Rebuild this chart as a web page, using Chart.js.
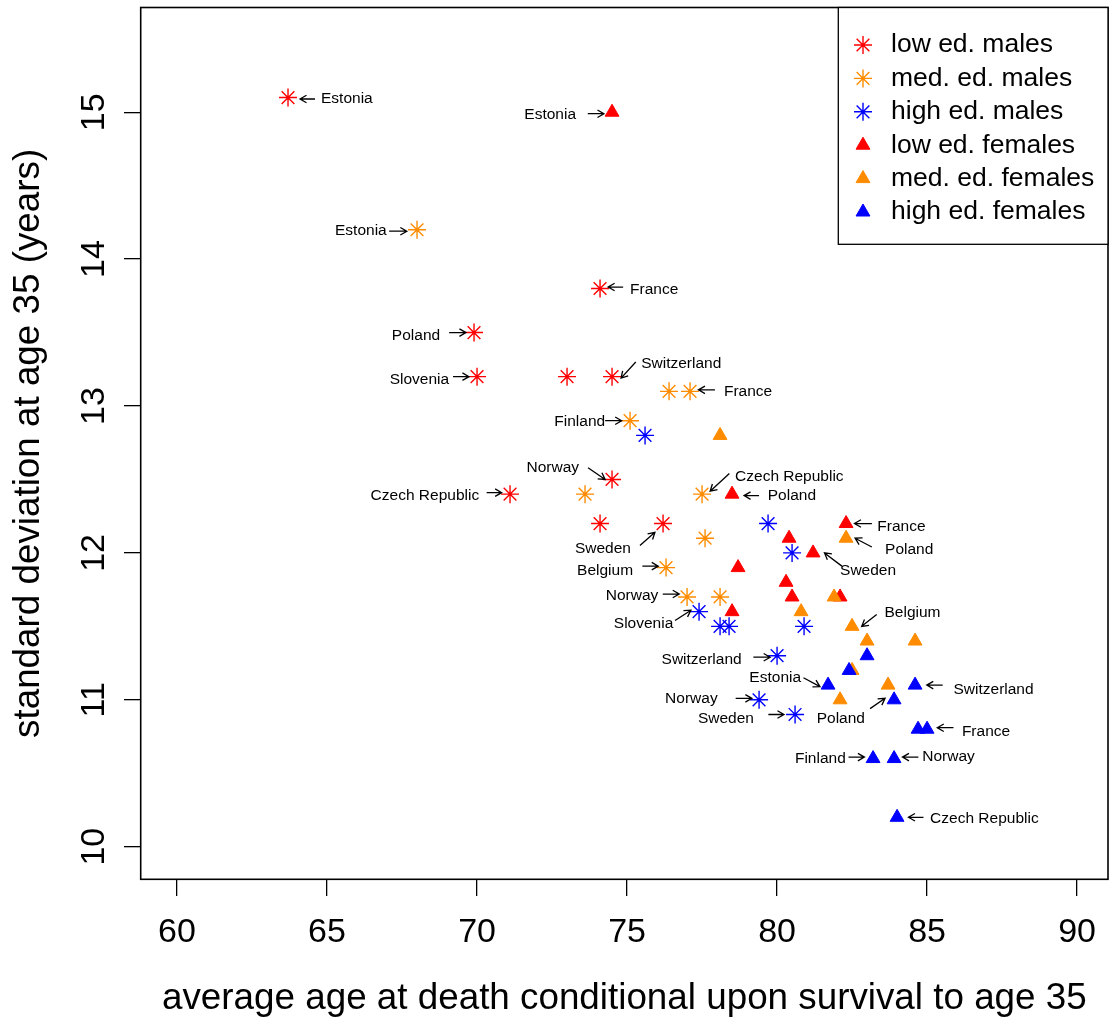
<!DOCTYPE html>
<html>
<head>
<meta charset="utf-8">
<script src="https://cdn.jsdelivr.net/npm/chart.js@4.4.1/dist/chart.umd.min.js"></script>
<style>
  html, body { margin: 0; padding: 0; background: #fff; }
  #wrap { width: 1110px; height: 1021px; }
</style>
</head>
<body>
<div id="wrap"><canvas id="chart"></canvas></div>
<script>
const FONT = '"Liberation Sans", Arial, Helvetica, sans-serif';

const xTicks = [60, 65, 70, 75, 80, 85, 90];
const yTicks = [10, 11, 12, 13, 14, 15];

const seriesNames = ["low ed. males", "med. ed. males", "high ed. males",
  "low ed. females", "med. ed. females", "high ed. females"];
const seriesColors = ["#ff0000", "#ff8c00", "#0000ff", "#ff0000", "#ff8c00", "#0000ff"];

// [average age at death, standard deviation]
const lowMales = [[63.7, 15.1], [74.1, 13.8], [69.9, 13.5], [70.0, 13.2], [73.0, 13.2],
  [74.5, 13.2], [74.5, 12.5], [71.1, 12.4], [74.1, 12.2], [76.2, 12.2]];
const medMales = [[68.0, 14.2], [76.4, 13.1], [77.1, 13.1], [75.1, 12.9], [73.6, 12.4],
  [77.5, 12.4], [77.6, 12.1], [76.3, 11.9], [77.0, 11.7], [78.1, 11.7]];
const highMales = [[75.6, 12.8], [79.7, 12.2], [80.5, 12.0], [77.4, 11.6], [78.1, 11.5],
  [78.4, 11.5], [80.9, 11.5], [80.0, 11.3], [79.4, 11.0], [80.6, 10.9]];
const lowFemales = [[74.5, 15.0], [78.5, 12.4], [82.3, 12.2], [80.4, 12.1], [81.2, 12.0],
  [78.7, 11.9], [80.3, 11.8], [80.5, 11.7], [82.1, 11.7], [78.5, 11.6]];
const medFemales = [[78.1, 12.8], [82.3, 12.1], [81.9, 11.7], [80.8, 11.6], [82.5, 11.5],
  [83.0, 11.4], [84.6, 11.4], [82.5, 11.2], [83.7, 11.1], [82.1, 11.0]];
const highFemales = [[83.0, 11.3], [82.4, 11.2], [81.7, 11.1], [84.6, 11.1], [83.9, 11.0],
  [84.7, 10.8], [85.0, 10.8], [83.2, 10.6], [83.9, 10.6], [84.0, 10.2]];

// country labels: [text, textX, textY, align, arrowFromX, arrowFromY, arrowToX, arrowToY]
const notes = [
  ["Estonia", 64.80, 15.09, "left", 64.60, 15.09, 64.10, 15.09],
  ["Estonia", 66.99, 14.19, "right", 67.07, 14.19, 67.66, 14.19],
  ["Estonia", 73.30, 14.98, "right", 73.69, 14.99, 74.23, 14.99],
  ["France", 75.10, 13.79, "left", 74.87, 13.81, 74.37, 13.81],
  ["Poland", 68.77, 13.48, "right", 69.07, 13.50, 69.63, 13.50],
  ["Slovenia", 69.07, 13.18, "right", 69.20, 13.20, 69.73, 13.20],
  ["Switzerland", 75.47, 13.29, "left", 75.29, 13.30, 74.80, 13.19],
  ["France", 78.23, 13.10, "left", 77.93, 13.11, 77.38, 13.11],
  ["Finland", 74.27, 12.89, "right", 74.27, 12.90, 74.82, 12.90],
  ["Norway", 73.40, 12.58, "right", 73.70, 12.58, 74.27, 12.50],
  ["Czech Republic", 70.07, 12.39, "right", 70.32, 12.41, 70.82, 12.41],
  ["Czech Republic", 78.60, 12.52, "left", 78.41, 12.54, 77.77, 12.42],
  ["Poland", 79.69, 12.39, "left", 79.40, 12.39, 78.90, 12.39],
  ["Sweden", 75.13, 12.03, "right", 75.43, 12.05, 75.93, 12.14],
  ["Belgium", 75.20, 11.88, "right", 75.51, 11.91, 76.04, 11.91],
  ["France", 83.34, 12.18, "left", 83.16, 12.20, 82.58, 12.20],
  ["Poland", 83.60, 12.02, "left", 83.16, 12.04, 82.60, 12.10],
  ["Sweden", 82.10, 11.88, "left", 82.16, 11.91, 81.58, 12.00],
  ["Norway", 76.04, 11.71, "right", 76.19, 11.72, 76.74, 11.72],
  ["Slovenia", 76.54, 11.52, "right", 76.60, 11.54, 77.13, 11.61],
  ["Belgium", 83.58, 11.59, "left", 83.32, 11.58, 82.82, 11.50],
  ["Switzerland", 78.82, 11.27, "right", 79.21, 11.29, 79.77, 11.29],
  ["Estonia", 80.80, 11.15, "right", 80.88, 11.15, 81.43, 11.09],
  ["Norway", 78.02, 11.01, "right", 78.62, 11.01, 79.16, 11.01],
  ["Sweden", 79.23, 10.87, "right", 79.71, 10.90, 80.23, 10.90],
  ["Poland", 82.93, 10.87, "right", 83.10, 10.94, 83.60, 11.01],
  ["Finland", 82.29, 10.60, "right", 82.38, 10.61, 82.91, 10.61],
  ["Switzerland", 85.88, 11.07, "left", 85.52, 11.10, 84.99, 11.10],
  ["France", 86.16, 10.78, "left", 85.88, 10.81, 85.34, 10.81],
  ["Norway", 84.84, 10.61, "left", 84.71, 10.61, 84.18, 10.61],
  ["Czech Republic", 85.10, 10.19, "left", 84.88, 10.20, 84.38, 10.20],
];

const seriesData = [lowMales, medMales, highMales, lowFemales, medFemales, highFemales];

const datasets = seriesData.map((rows, i) => {
  const male = i < 3;
  return {
    label: seriesNames[i],
    data: rows.map(([x, y]) => ({ x, y })),
    pointStyle: male ? "star" : "triangle",
    pointRadius: male ? 9 : 8,
    pointBorderWidth: male ? 1.4 : 1,
    borderColor: seriesColors[i],
    backgroundColor: seriesColors[i],
    order: 6 - i, // later series on top, like R
  };
});

// --- symbols for the legend ---
function drawSymbol(ctx, kind, x, y, color) {
  ctx.save();
  ctx.strokeStyle = color;
  ctx.fillStyle = color;
  if (kind === "star") {
    const r = 9;
    ctx.lineWidth = 1.4;
    ctx.beginPath();
    for (let k = 0; k < 4; k++) {
      const a = (k * Math.PI) / 4;
      ctx.moveTo(x - Math.cos(a) * r, y - Math.sin(a) * r);
      ctx.lineTo(x + Math.cos(a) * r, y + Math.sin(a) * r);
    }
    ctx.stroke();
  } else {
    const r = 8;
    ctx.lineWidth = 1;
    ctx.beginPath();
    ctx.moveTo(x, y - r);
    ctx.lineTo(x + r * Math.sin((2 * Math.PI) / 3), y + r / 2);
    ctx.lineTo(x - r * Math.sin((2 * Math.PI) / 3), y + r / 2);
    ctx.closePath();
    ctx.fill();
    ctx.stroke();
  }
  ctx.restore();
}

const framePlugin = {
  id: "frame",
  afterDraw(chart) {
    const { ctx, chartArea: a } = chart;
    ctx.save();
    ctx.strokeStyle = "#000";
    ctx.lineWidth = 1.6;
    ctx.strokeRect(a.left, a.top, a.right - a.left, a.bottom - a.top);
    // rotated y tick labels (R style)
    ctx.fillStyle = "#000";
    ctx.font = `34px ${FONT}`;
    ctx.textAlign = "center";
    ctx.textBaseline = "middle";
    yTicks.forEach((v) => {
      const py = chart.scales.y.getPixelForValue(v);
      ctx.save();
      ctx.translate(a.left - 46, py);
      ctx.rotate(-Math.PI / 2);
      ctx.fillText(String(v), 0, 0);
      ctx.restore();
    });
    ctx.restore();
  },
};

const notesPlugin = {
  id: "notes",
  afterDatasetsDraw(chart) {
    const { ctx } = chart;
    const sx = chart.scales.x, sy = chart.scales.y;
    ctx.save();
    ctx.strokeStyle = "#000";
    ctx.fillStyle = "#000";
    ctx.lineWidth = 1.3;
    ctx.font = `15.5px ${FONT}`;
    ctx.textBaseline = "middle";
    notes.forEach(([text, tx, ty, align, x0, y0, x1, y1]) => {
      ctx.textAlign = align;
      ctx.fillText(text, sx.getPixelForValue(tx), sy.getPixelForValue(ty));
      const px0 = sx.getPixelForValue(x0), py0 = sy.getPixelForValue(y0);
      const px1 = sx.getPixelForValue(x1), py1 = sy.getPixelForValue(y1);
      const ang = Math.atan2(py1 - py0, px1 - px0);
      const len = 7.5, spread = Math.PI / 6;
      ctx.beginPath();
      ctx.moveTo(px0, py0);
      ctx.lineTo(px1, py1);
      ctx.moveTo(px1 - len * Math.cos(ang - spread), py1 - len * Math.sin(ang - spread));
      ctx.lineTo(px1, py1);
      ctx.lineTo(px1 - len * Math.cos(ang + spread), py1 - len * Math.sin(ang + spread));
      ctx.stroke();
    });
    ctx.restore();
  },
};

const legendPlugin = {
  id: "rLegend",
  afterDraw(chart) {
    const { ctx, chartArea: a } = chart;
    const w = 269.7, h = 236.8;
    const left = a.right - w, top = a.top;
    ctx.save();
    ctx.fillStyle = "#fff";
    ctx.fillRect(left, top, w, h);
    ctx.strokeStyle = "#000";
    ctx.lineWidth = 1.3;
    ctx.strokeRect(left, top, w, h);
    ctx.font = `26.5px ${FONT}`;
    ctx.textAlign = "left";
    ctx.textBaseline = "middle";
    seriesNames.forEach((name, i) => {
      const y = top + 37.5 + i * 33.4;
      drawSymbol(ctx, i < 3 ? "star" : "triangle", left + 24.7, y, seriesColors[i]);
      ctx.fillStyle = "#000";
      ctx.fillText(name, left + 52.7, y);
    });
    ctx.restore();
  },
};

new Chart(document.getElementById("chart"), {
  type: "scatter",
  data: { datasets },
  options: {
    responsive: true,
    maintainAspectRatio: false,
    animation: false,
    devicePixelRatio: 1,
    layout: { autoPadding: false, padding: { top: 7.5, right: 2, left: 0, bottom: 0 } },
    plugins: { legend: { display: false }, tooltip: { enabled: false } },
    scales: {
      x: {
        type: "linear",
        min: 58.79,
        max: 91.03,
        afterBuildTicks: (s) => { s.ticks = xTicks.map((v) => ({ value: v })); },
        afterFit: (s) => { s.height = 141.7; s.paddingLeft = 0; s.paddingRight = 0; },
        border: { display: false },
        grid: { drawOnChartArea: false, drawTicks: true, tickLength: 16.7, color: "#000", lineWidth: 1.3 },
        ticks: {
          color: "#000",
          font: { size: 34, family: FONT, lineHeight: 1 },
          padding: 20,
          maxRotation: 0,
          autoSkip: false,
        },
        title: {
          display: true,
          text: "average age at death conditional upon survival to age 35",
          color: "#000",
          font: { size: 36.8, family: FONT, lineHeight: 1 },
          padding: { top: 0, bottom: 3.6 },
        },
      },
      y: {
        type: "linear",
        min: 9.778,
        max: 15.713,
        afterBuildTicks: (s) => { s.ticks = yTicks.map((v) => ({ value: v })); },
        afterFit: (s) => { s.width = 140.7; s.paddingTop = 0; s.paddingBottom = 0; },
        border: { display: false },
        grid: { drawOnChartArea: false, drawTicks: true, tickLength: 16.7, color: "#000", lineWidth: 1.3 },
        ticks: { display: false },
        title: {
          display: true,
          text: "standard deviation at age 35 (years)",
          color: "#000",
          font: { size: 36.8, family: FONT, lineHeight: 1 },
          padding: { top: 10.5, bottom: 0 },
        },
      },
    },
  },
  plugins: [framePlugin, notesPlugin, legendPlugin],
});
</script>
</body>
</html>
